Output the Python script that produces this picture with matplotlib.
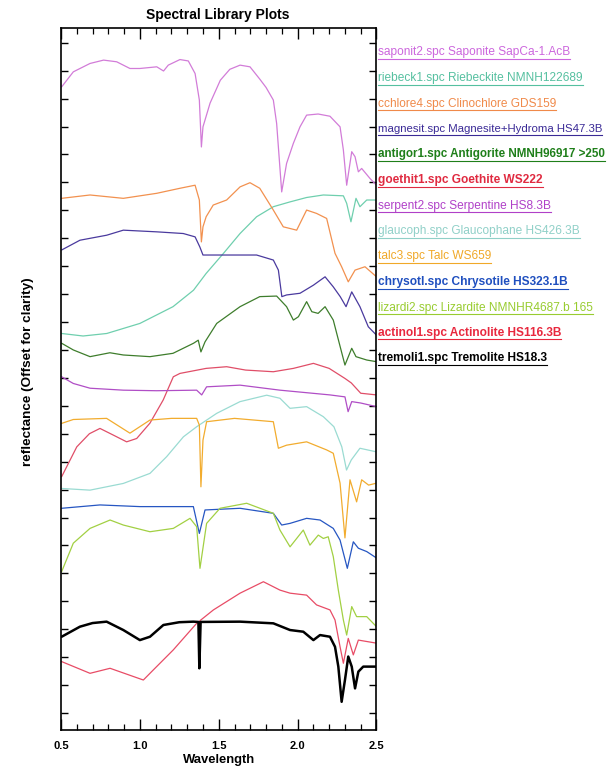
import matplotlib
matplotlib.use("Agg")
import matplotlib.pyplot as plt
from matplotlib.lines import Line2D
from matplotlib.ticker import MultipleLocator

plt.rcParams['font.family'] = ['Liberation Sans', 'DejaVu Sans']

# ---------------- data (wavelength in um, reflectance offset units) ----------------
w_saponite = [0.504, 0.578, 0.684, 0.77, 0.853, 0.937, 1.0, 1.107, 1.15, 1.18, 1.254, 1.307, 1.35, 1.377, 1.39, 1.40,
              1.445, 1.51, 1.57, 1.635, 1.698, 1.76, 1.80, 1.846, 1.867, 1.899, 1.93, 1.973, 2.015, 2.057, 2.13,
              2.205, 2.269, 2.29, 2.311, 2.343, 2.364, 2.385, 2.406, 2.459, 2.50]
r_saponite = [22.42, 22.96, 23.26, 23.38, 23.32, 23.08, 23.08, 23.14, 22.99, 23.20, 23.40, 23.35, 22.90, 21.95, 20.27,
              20.99, 21.84, 22.66, 23.05, 23.20, 23.14, 22.70, 22.40, 21.95, 21.11, 18.66, 19.68, 20.40, 20.99, 21.41,
              21.45, 21.37, 20.99, 20.16, 18.90, 20.10, 19.92, 19.38, 19.50, 19.14, 18.90]

w_riebeckite = [0.504, 0.64, 0.79, 1.0, 1.21, 1.34, 1.42, 1.53, 1.635, 1.74, 1.846, 1.95, 2.057, 2.163, 2.29, 2.311,
                2.338, 2.37, 2.395, 2.438, 2.50]
r_riebeckite = [13.59, 13.50, 13.59, 13.95, 14.55, 15.14, 15.74, 16.46, 17.17, 17.77, 18.13, 18.30, 18.46, 18.55, 18.52,
                18.25, 17.59, 18.43, 18.13, 18.37, 18.37]

w_clinochlore = [0.504, 0.684, 0.895, 1.107, 1.254, 1.35, 1.377, 1.39, 1.40, 1.42, 1.465, 1.55, 1.635, 1.698, 1.76,
                 1.846, 1.909, 1.994, 2.057, 2.12, 2.184, 2.237, 2.279, 2.321, 2.364, 2.427, 2.50]
r_clinochlore = [18.43, 18.55, 18.43, 18.61, 18.79, 18.90, 18.37, 16.87, 17.41, 17.77, 18.19, 18.37, 18.84, 18.99, 18.79,
                 18.01, 17.41, 17.29, 18.01, 17.89, 17.71, 16.46, 15.98, 15.44, 15.86, 15.98, 15.62]

w_magnesite = [0.504, 0.62, 0.79, 0.895, 1.107, 1.275, 1.35, 1.38, 1.40, 1.53, 1.74, 1.846, 1.878, 1.90, 1.93, 2.015,
               2.10, 2.174, 2.226, 2.27, 2.307, 2.343, 2.395, 2.448, 2.50]
r_magnesite = [16.58, 16.93, 17.11, 17.29, 17.23, 17.17, 17.05, 16.69, 16.40, 16.40, 16.40, 16.22, 15.86, 14.91, 14.97,
               15.03, 15.32, 15.62, 15.26, 14.91, 14.55, 15.08, 14.55, 13.83, 13.53]

w_antigorite = [0.504, 0.578, 0.684, 0.81, 0.895, 1.064, 1.21, 1.34, 1.37, 1.387, 1.413, 1.487, 1.635, 1.76, 1.867,
                1.93, 1.973, 2.005, 2.057, 2.09, 2.13, 2.174, 2.226, 2.27, 2.30, 2.343, 2.37, 2.438, 2.50]
r_antigorite = [13.24, 13.00, 12.76, 12.90, 12.82, 12.76, 12.88, 13.24, 13.35, 12.93, 13.29, 13.95, 14.55, 14.91, 14.93,
                14.55, 14.07, 14.19, 14.73, 14.37, 14.31, 14.55, 14.07, 13.11, 12.46, 13.06, 12.76, 12.64, 12.58]

w_goethite = [0.504, 0.60, 0.68, 0.747, 0.832, 0.916, 0.98, 1.064, 1.148, 1.212, 1.254, 1.42, 1.55, 1.67, 1.846, 1.973,
              2.10, 2.20, 2.30, 2.34, 2.40, 2.50]
r_goethite = [8.46, 9.53, 10.00, 10.19, 9.95, 9.71, 9.83, 10.38, 11.21, 12.04, 12.16, 12.34, 12.40, 12.28, 12.22, 12.34,
              12.52, 12.34, 11.98, 11.82, 11.45, 11.39]

w_serpentine = [0.504, 0.578, 0.684, 0.895, 1.106, 1.36, 1.392, 1.423, 1.635, 1.888, 2.205, 2.30, 2.32, 2.343, 2.40,
                2.50]
r_serpentine = [12.04, 11.80, 11.63, 11.56, 11.54, 11.56, 11.39, 11.68, 11.74, 11.56, 11.39, 11.32, 10.79, 11.15, 11.10,
                10.97]

w_glaucophane = [0.504, 0.684, 0.895, 1.064, 1.17, 1.276, 1.36, 1.487, 1.635, 1.804, 1.888, 1.952, 2.057, 2.163, 2.23,
                 2.28, 2.31, 2.34, 2.395, 2.50]
r_glaucophane = [8.04, 7.98, 8.22, 8.58, 9.18, 9.89, 10.25, 10.73, 11.15, 11.38, 11.27, 10.91, 10.97, 10.61, 10.25,
                 9.53, 8.70, 9.06, 9.48, 9.35]

w_talc = [0.504, 0.578, 0.789, 0.937, 1.064, 1.20, 1.36, 1.377, 1.387, 1.40, 1.423, 1.60, 1.846, 1.878, 1.93, 2.057,
          2.184, 2.226, 2.269, 2.30, 2.332, 2.374, 2.406, 2.45, 2.50]
r_talc = [10.37, 10.51, 10.55, 10.02, 10.49, 10.55, 10.55, 10.31, 8.10, 9.77, 10.43, 10.55, 10.43, 9.48, 9.59, 9.71,
          9.42, 9.30, 8.23, 6.27, 8.35, 7.56, 8.35, 8.16, 8.23]

w_chrysotile = [0.504, 0.747, 1.0, 1.339, 1.377, 1.413, 1.635, 1.846, 1.899, 1.952, 2.057, 2.142, 2.226, 2.269, 2.315,
                2.353, 2.385, 2.438, 2.50]
r_chrysotile = [7.33, 7.45, 7.39, 7.39, 6.43, 7.27, 7.33, 7.15, 6.73, 6.79, 6.97, 6.91, 6.61, 6.19, 5.18, 6.13, 5.90,
                5.78, 5.55]

w_lizardite = [0.504, 0.578, 0.684, 0.811, 0.895, 1.064, 1.212, 1.318, 1.36, 1.381, 1.423, 1.508, 1.677, 1.846, 1.888,
               1.952, 2.036, 2.078, 2.131, 2.163, 2.194, 2.226, 2.258, 2.29, 2.311, 2.343, 2.374, 2.438, 2.50]
r_lizardite = [5.06, 6.08, 6.61, 6.91, 6.73, 6.49, 6.61, 6.97, 6.67, 5.18, 6.79, 7.33, 7.51, 7.15, 6.55, 5.95, 6.55,
               6.01, 6.37, 6.25, 6.31, 5.60, 4.40, 3.33, 2.79, 3.81, 3.45, 3.45, 3.09]

w_actinolite = [0.504, 0.684, 0.811, 1.022, 1.085, 1.212, 1.36, 1.466, 1.635, 1.783, 1.888, 1.952, 2.057, 2.12, 2.205,
                2.237, 2.269, 2.29, 2.321, 2.353, 2.385, 2.50]
r_actinolite = [1.84, 1.42, 1.60, 1.18, 1.54, 2.26, 3.21, 3.69, 4.29, 4.70, 4.40, 4.29, 4.22, 3.87, 3.69, 3.33, 2.37,
                1.78, 2.67, 2.08, 2.61, 2.50]

w_tremolite = [0.504, 0.62, 0.70, 0.789, 0.895, 1.0, 1.064, 1.149, 1.25, 1.339, 1.371, 1.377, 1.385, 1.635, 1.846,
               1.952, 2.036, 2.10, 2.142, 2.205, 2.237, 2.258, 2.279, 2.30, 2.321, 2.343, 2.364, 2.385, 2.416, 2.50]
r_tremolite = [2.73, 3.09, 3.22, 3.27, 2.97, 2.61, 2.73, 3.15, 3.25, 3.27, 3.26, 1.60, 3.26, 3.27, 3.21, 2.97, 2.91,
               2.61, 2.79, 2.73, 2.37, 1.66, 0.40, 1.18, 2.02, 1.66, 0.88, 1.48, 1.66, 1.66]

labels = [
    "saponit2.spc Saponite SapCa-1.AcB",
    "riebeck1.spc Riebeckite NMNH122689",
    "cchlore4.spc Clinochlore GDS159",
    "magnesit.spc Magnesite+Hydroma HS47.3B",
    "antigor1.spc Antigorite NMNH96917 >250",
    "goethit1.spc Goethite WS222",
    "serpent2.spc Serpentine HS8.3B",
    "glaucoph.spc Glaucophane HS426.3B",
    "talc3.spc Talc WS659",
    "chrysotl.spc Chrysotile HS323.1B",
    "lizardi2.spc Lizardite NMNHR4687.b 165",
    "actinol1.spc Actinolite HS116.3B",
    "tremoli1.spc Tremolite HS18.3",
]
series = [
    (w_saponite, r_saponite), (w_riebeckite, r_riebeckite), (w_clinochlore, r_clinochlore),
    (w_magnesite, r_magnesite), (w_antigorite, r_antigorite), (w_goethite, r_goethite),
    (w_serpentine, r_serpentine), (w_glaucophane, r_glaucophane), (w_talc, r_talc),
    (w_chrysotile, r_chrysotile), (w_lizardite, r_lizardite), (w_actinolite, r_actinolite),
    (w_tremolite, r_tremolite),
]
line_colors = ["#d27cd8", "#6fcfae", "#f2914f", "#4a3a9e", "#3e7d2c", "#e04e68", "#b04ec6",
               "#9adbd2", "#f2ac2e", "#2656c2", "#a2d043", "#e84c66", "#000000"]
text_colors = ["#cc66dd", "#55c0a0", "#f08a4a", "#3a2a96", "#1f7f1a", "#e02a40", "#b040c8",
               "#90d0c8", "#f0a828", "#1f4fbf", "#98cc30", "#e8283e", "#000000"]
text_bold = [False, False, False, False, True, True, False, False, False, True, False, True, True]
line_widths = [0.9] * 12 + [1.8]

# ---------------- figure ----------------
W, H = 607, 778
fig = plt.figure(figsize=(W / 100, H / 100), dpi=100)
ax = fig.add_axes([61 / W, 1 - 730 / H, (376.5 - 61) / W, (730 - 28) / H])

for (wv, rv), c, lw in zip(series, line_colors, line_widths):
    ax.plot(wv, rv, color=c, lw=lw, solid_joinstyle='round', solid_capstyle='round')

ax.set_xlim(0.5, 2.5)
ax.set_ylim(-0.61, 24.53)
ax.xaxis.set_major_locator(MultipleLocator(0.5))
ax.xaxis.set_minor_locator(MultipleLocator(0.1))
ax.yaxis.set_major_locator(MultipleLocator(1))
ax.set_xticks([0.5, 1.0, 1.5, 2.0, 2.5])
ax.set_xticklabels(["0.5", "1.0", "1.5", "2.0", "2.5"])
ax.tick_params(axis='x', which='major', direction='in', length=8, width=1.0, top=True, bottom=True,
               labelsize=8, pad=8)
ax.tick_params(axis='x', which='minor', direction='in', length=4, width=0.9, top=True, bottom=True)
ax.tick_params(axis='y', which='major', direction='in', length=5, width=1.0, left=True, right=True,
               labelleft=False)
for lab in ax.get_xticklabels():
    lab.set_fontweight('bold')
for sp in ax.spines.values():
    sp.set_linewidth(1.2)

ax.set_xlabel("Wavelength", fontsize=9.4, fontweight='bold', labelpad=2)
fig.text(28 / W, 1 - 372 / H, "reflectance (Offset for clarity)", rotation=90, ha='center', va='center',
         fontsize=9.7, fontweight='bold')
fig.text(218 / W, 1 - 14.5 / H, "Spectral Library Plots", ha='center', va='center', fontsize=10,
         fontweight='bold')

texts = []
for i, (lab, c, b) in enumerate(zip(labels, text_colors, text_bold)):
    y = 52.5 + 25.5 * i
    t = fig.text(378 / W, 1 - y / H, lab, color=c, fontsize=8.6, ha='left', va='center',
                 fontweight='bold' if b else 'normal')
    texts.append(t)

fig.canvas.draw()
renderer = fig.canvas.get_renderer()
# shrink any label that would run past the right edge of the figure
for t in texts:
    size = t.get_fontsize()
    while t.get_window_extent(renderer).x1 > W - 2 and size > 5:
        size -= 0.1
        t.set_fontsize(size)
fig.canvas.draw()
for t in texts:
    bb = t.get_window_extent(renderer)
    y0 = (bb.y0 - 0.5) / H
    fig.add_artist(Line2D([bb.x0 / W, bb.x1 / W], [y0, y0], transform=fig.transFigure,
                          color=t.get_color(), lw=0.8))

fig.savefig("out.png", dpi=100)
